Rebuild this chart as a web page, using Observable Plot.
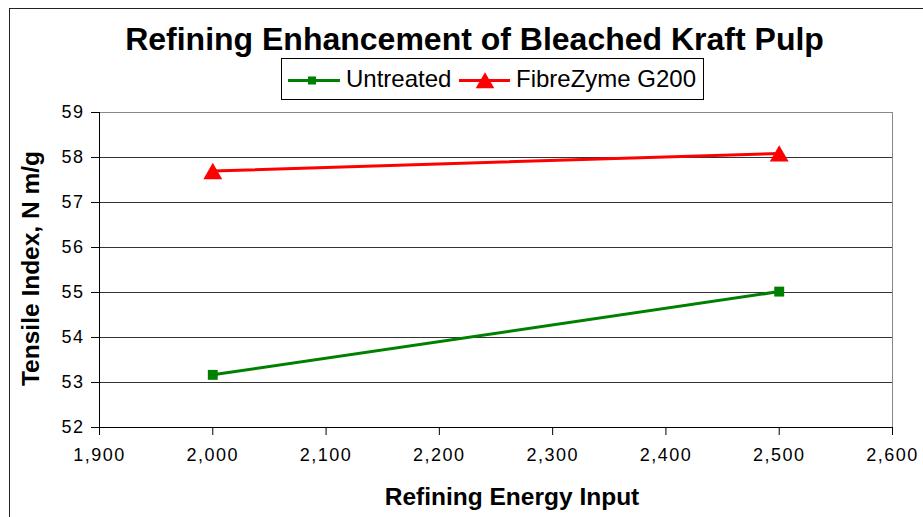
<!DOCTYPE html>
<html>
<head>
<meta charset="utf-8">
<script src="https://cdn.jsdelivr.net/npm/d3@7"></script>
<script src="https://cdn.jsdelivr.net/npm/@observablehq/plot@0.6"></script>
<style>
  html, body { margin: 0; padding: 0; background: #fff; }
  #chart { position: relative; width: 923px; height: 517px; overflow: hidden; background: #fff; }
  #chart > svg { position: absolute; left: 0; top: 0; }
  #plot svg text { letter-spacing: 1.5px; font-size: 18px !important; font-family: 'Liberation Sans', Arial, sans-serif !important; }
</style>
</head>
<body>
<div id="chart"><div id="plot"></div></div>
<script>
// ---- data ----
const titleText = "Refining Enhancement of Bleached Kraft Pulp";
const xTitle = "Refining Energy Input";
const yTitle = "Tensile Index, N m/g";
const seriesNames = ["Untreated", "FibreZyme G200"];
const seriesColors = ["#008000", "#ff0000"];
const energy = [2000, 2500];
const untreated = [53.17, 55.02];
const fibrezyme = [57.70, 58.09];
const xTicks = [1900, 2000, 2100, 2200, 2300, 2400, 2500, 2600];
const yTicks = [52, 53, 54, 55, 56, 57, 58, 59];

const rows = [
  ...energy.map((e, i) => ({series: seriesNames[0], x: e, y: untreated[i]})),
  ...energy.map((e, i) => ({series: seriesNames[1], x: e, y: fibrezyme[i]}))
];
const s0 = rows.filter(d => d.series === seriesNames[0]);
const s1 = rows.filter(d => d.series === seriesNames[1]);

const W = 923, H = 517;
const plot = Plot.plot({
  width: W,
  height: H,
  marginLeft: 99,
  marginRight: 31,
  marginTop: 112,
  marginBottom: 90,
  style: {fontFamily: "'Liberation Sans', Arial, sans-serif", fontSize: "18px", color: "#000", background: "transparent", overflow: "visible"},
  x: {domain: [xTicks[0], xTicks[xTicks.length - 1]]},
  y: {domain: [yTicks[0], yTicks[yTicks.length - 1]]},
  marks: [
    Plot.ruleY(yTicks.slice(1, -1), {stroke: "#333", strokeWidth: 1}),
    Plot.ruleY([yTicks[yTicks.length - 1]], {stroke: "#888", strokeWidth: 1}),
    Plot.ruleX([xTicks[xTicks.length - 1]], {stroke: "#888", strokeWidth: 1}),
    Plot.axisY(yTicks, {tickSize: 8, tickPadding: 7, fontSize: 18, label: null, tickFormat: d => String(d)}),
    Plot.axisX(xTicks, {tickSize: 8, tickPadding: 13, fontSize: 18, label: null, tickFormat: d3.format(",")}),
    Plot.ruleX([xTicks[0]], {stroke: "#000", strokeWidth: 1}),
    Plot.ruleY([yTicks[0]], {stroke: "#000", strokeWidth: 1}),
    Plot.line(s0, {x: "x", y: "y", stroke: seriesColors[0], strokeWidth: 3}),
    Plot.line(s1, {x: "x", y: "y", stroke: seriesColors[1], strokeWidth: 3}),
    Plot.dot(s0, {x: "x", y: "y", symbol: "square", r: 5.6, fill: seriesColors[0], stroke: "none"}),
    Plot.dot(s1, {x: "x", y: "y", symbol: "triangle", r: 7, dy: 2.7, fill: seriesColors[1], stroke: "none"})
  ]
});
document.getElementById("plot").appendChild(plot);

// ---- overlay: border, title, legend, axis titles ----
const chart = d3.select("#chart");
const ov = chart.append("svg")
  .attr("width", W).attr("height", H)
  .style("font-family", "'Liberation Sans', Arial, sans-serif");

ov.append("rect").attr("x", 9.5).attr("y", 8.5).attr("width", 1000).attr("height", 1000)
  .attr("fill", "none").attr("stroke", "#222").attr("stroke-width", 1);

ov.append("text").attr("x", 474.5).attr("y", 50).attr("text-anchor", "middle")
  .attr("font-size", 32).attr("font-weight", "bold").attr("fill", "#000").text(titleText);

ov.append("text").attr("x", 512).attr("y", 505).attr("text-anchor", "middle")
  .attr("font-size", 24.5).attr("font-weight", "bold").attr("fill", "#000").text(xTitle);

ov.append("text").attr("transform", "translate(39,268.5) rotate(-90)").attr("text-anchor", "middle")
  .attr("font-size", 24.5).attr("font-weight", "bold").attr("fill", "#000").text(yTitle);

// legend
ov.append("rect").attr("x", 281.5).attr("y", 58.5).attr("width", 422).attr("height", 41)
  .attr("fill", "#fff").attr("stroke", "#000").attr("stroke-width", 1);
const legendItems = [
  {name: seriesNames[0], color: seriesColors[0], x0: 288, x1: 340, cx: 312, sym: d3.symbolSquare, size: 64, dy: 0, tx: 346},
  {name: seriesNames[1], color: seriesColors[1], x0: 459, x1: 510, cx: 485, sym: d3.symbolTriangle, size: 150, dy: 2.5, tx: 516}
];
legendItems.forEach(it => {
  ov.append("line").attr("x1", it.x0).attr("x2", it.x1).attr("y1", 80.5).attr("y2", 80.5)
    .attr("stroke", it.color).attr("stroke-width", 3);
  ov.append("path").attr("d", d3.symbol(it.sym, it.size)())
    .attr("transform", `translate(${it.cx},${80.5 + it.dy})`).attr("fill", it.color);
  ov.append("text").attr("x", it.tx).attr("y", 87).attr("font-size", 24).attr("fill", "#000").text(it.name);
});
</script>
</body>
</html>
